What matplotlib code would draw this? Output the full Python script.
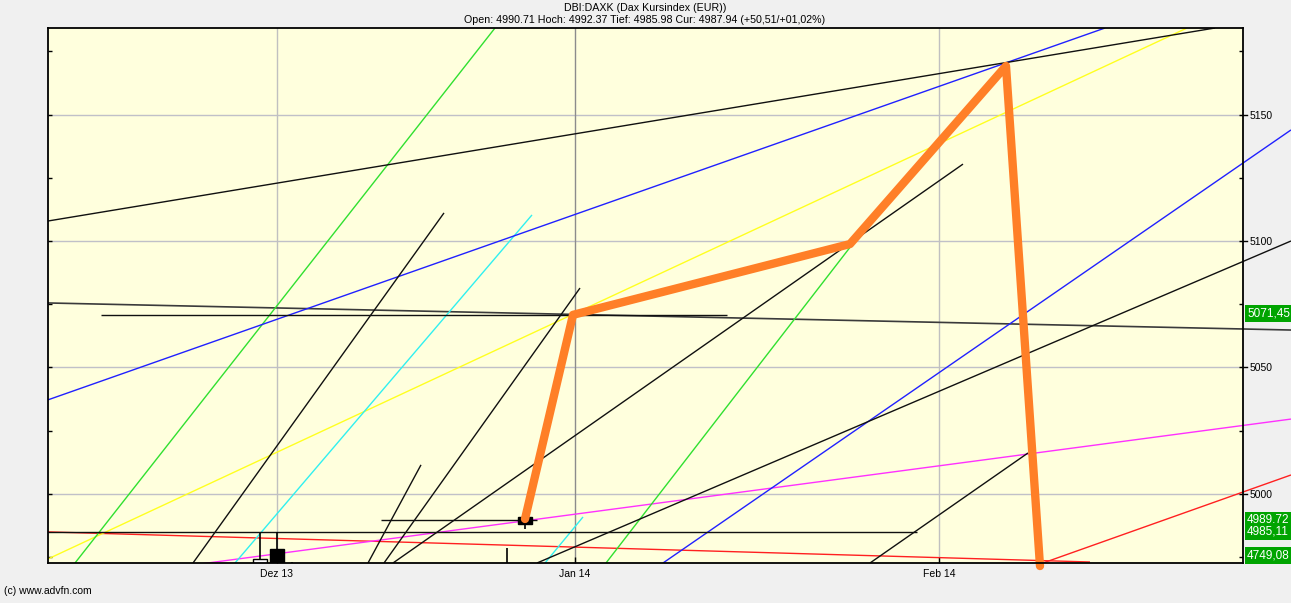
import matplotlib
matplotlib.use("Agg")
import matplotlib.pyplot as plt
from matplotlib.patches import Rectangle
from matplotlib.ticker import MultipleLocator, FixedLocator
import matplotlib.transforms as mtransforms

# ---------------- data ----------------
title_main = "DBI:DAXK (Dax Kursindex (EUR))"
title_info = "Open: 4990.71 Hoch: 4992.37 Tief: 4985.98 Cur: 4987.94 (+50,51/+01,02%)"
footer = "(c) www.advfn.com"

x_tick_pos = [0.0, 29.8, 66.2]
x_tick_labels = ["Dez 13", "Jan 14", "Feb 14"]
y_ticks = [5000, 5050, 5100, 5150]

# trend lines (x0, y0, x1, y1) grouped by colour
black_lines = [
    (-22.9, 5107.9, 93.8, 5184.2),
    (-8.4, 4972.7, 16.7, 5111.1),
    (9.1, 4972.7, 14.4, 5011.5),
    (10.7, 4972.7, 30.3, 5081.4),
    (11.6, 4972.7, 68.6, 5130.4),
    (26.0, 4972.7, 101.4, 5100.0),
    (59.3, 4972.7, 75.1, 5016.2),
    (-17.6, 5070.8, 45.0, 5070.8),
    (-22.9, 4985.0, 64.0, 4985.0),
    (10.4, 4989.7, 26.0, 4989.7),
]
gray_lines = [(-22.9, 5075.5, 101.4, 5064.8)]
blue_lines = [(-22.9, 5037.2, 82.8, 5184.2), (38.6, 4972.7, 101.4, 5143.9)]
yellow_lines = [(-22.9, 4974.3, 91.0, 5184.2)]
green_lines = [(-20.2, 4972.7, 21.8, 5184.2), (32.9, 4972.7, 57.4, 5098.0)]
cyan_lines = [(-4.2, 4972.7, 25.5, 5110.3), (26.8, 4972.7, 30.6, 4990.9)]
magenta_lines = [(-7.7, 4972.3, 101.4, 5029.6)]
red_lines = [(-22.9, 4985.0, 81.3, 4973.1), (76.6, 4972.7, 101.4, 5007.5)]

# orange projection path
path_x = [24.8, 29.6, 57.3, 72.9, 76.3]
path_y = [4990.1, 5070.8, 5098.8, 5169.2, 4971.5]

# candles
candle_x = [-1.7, 0.0, 1.5, 23.0, 24.75]
candle_open = [4966.0, 4978.3, 4965.0, 4965.0, 4990.71]
candle_high = [4984.6, 4985.0, 4973.2, 4978.7, 4992.37]
candle_low = [4960.0, 4960.0, 4960.0, 4960.0, 4985.98]
candle_close = [4974.3, 4966.0, 4962.0, 4962.0, 4987.94]

# right side price labels
price_labels = [5071.45, 4989.72, 4985.11, 4749.08]

# ---------------- plotting ----------------
plt.rcParams['font.family'] = ['Liberation Sans', 'DejaVu Sans']

W, H = 1291, 603
fig = plt.figure(figsize=(W / 100, H / 100), dpi=100)
fig.patch.set_facecolor('#F0F0F0')
ax = fig.add_axes([48 / W, (H - 563) / H, (1243 - 48) / W, (563 - 28) / H])
ax.set_facecolor('#FFFFDD')

ax.set_xlim(-22.9, 96.6)
ax.set_ylim(4972.7, 5184.2)

# grid
for yv in y_ticks:
    ax.axhline(yv, color='#C0C0C8', lw=1.0, zorder=0.5)
grid_cols = ['#C0C0C0', '#8C8C8C', '#C0C0C0']
for xv, gc in zip(x_tick_pos, grid_cols):
    ax.axvline(xv, color=gc, lw=1.0, zorder=0.5)

clip_rect = Rectangle((0, 0), 1.05, 1, transform=ax.transAxes)

def draw_group(lines, color, lw=1.0):
    for (x0, y0, x1, y1) in lines:
        ln, = ax.plot([x0, x1], [y0, y1], color=color, lw=lw, zorder=2,
                      solid_capstyle='butt')
        ln.set_clip_path(clip_rect)

draw_group(gray_lines, '#3A3A3A', 1.2)
draw_group(red_lines, '#FF2020')
draw_group(magenta_lines, '#FF30FF')
draw_group(yellow_lines, '#FFFF20')
draw_group(green_lines, '#30E030')
draw_group(cyan_lines, '#30F0F0')
draw_group(blue_lines, '#2020FF')
draw_group(black_lines, '#101010')

# candles
for cx, o, h, l, c in zip(candle_x, candle_open, candle_high, candle_low, candle_close):
    ax.vlines(cx, l, h, color='black', lw=1.2, zorder=3)
    face = 'white' if c > o else 'black'
    ax.bar(cx, abs(c - o), bottom=min(o, c), width=1.4, color=face,
           edgecolor='black', lw=1.0, zorder=3.5)

# orange path
ax.plot(path_x, path_y, color='#FF7F27', lw=6.0, zorder=4,
        solid_capstyle='round', solid_joinstyle='round', clip_on=False)

# axes styling
for s in ax.spines.values():
    s.set_linewidth(1.3)
    s.set_color('black')
    s.set_zorder(5)

ax.xaxis.set_major_locator(FixedLocator(x_tick_pos))
ax.set_xticklabels(x_tick_labels, fontsize=7.5)
ax.tick_params(axis='x', direction='in', length=4, width=1, pad=4)

ax.yaxis.tick_right()
ax.yaxis.set_major_locator(FixedLocator(y_ticks))
ax.yaxis.set_minor_locator(MultipleLocator(25))
ax.set_yticklabels([str(v) for v in y_ticks], fontsize=7.5)
ax.tick_params(axis='y', which='major', direction='in', length=3, width=1,
               pad=5, left=True, right=True)
ax.tick_params(axis='y', which='minor', direction='in', length=3, width=1,
               left=True, right=True)

# outward tick stubs on the right spine at major levels
trans = mtransforms.blended_transform_factory(ax.transAxes, ax.transData)
for yv in y_ticks:
    ax.plot([1.0, 1.0035], [yv, yv], transform=trans, color='black', lw=1.0,
            clip_on=False, zorder=5)

# right side price labels
ylo = ax.get_ylim()[0]
for v in price_labels:
    ypos = max(v, ylo + 3.0)
    ax.text(1.0035, ypos, f"{v:.2f}".replace('.', ','), transform=trans,
            color='white', fontsize=8.5, va='center', ha='left', clip_on=False,
            zorder=6,
            bbox=dict(boxstyle='square,pad=0.2', fc='#00A400', ec='none'))

# titles and footer
fig.text(645 / W, 1 - 8 / H, title_main, ha='center', va='center', fontsize=7.7)
fig.text(645 / W, 1 - 20 / H, title_info, ha='center', va='center', fontsize=7.7)
fig.text(4 / W, 1 - 591 / H, footer, ha='left', va='center', fontsize=7.5)

fig.savefig('out.png', dpi=100, facecolor=fig.get_facecolor())
